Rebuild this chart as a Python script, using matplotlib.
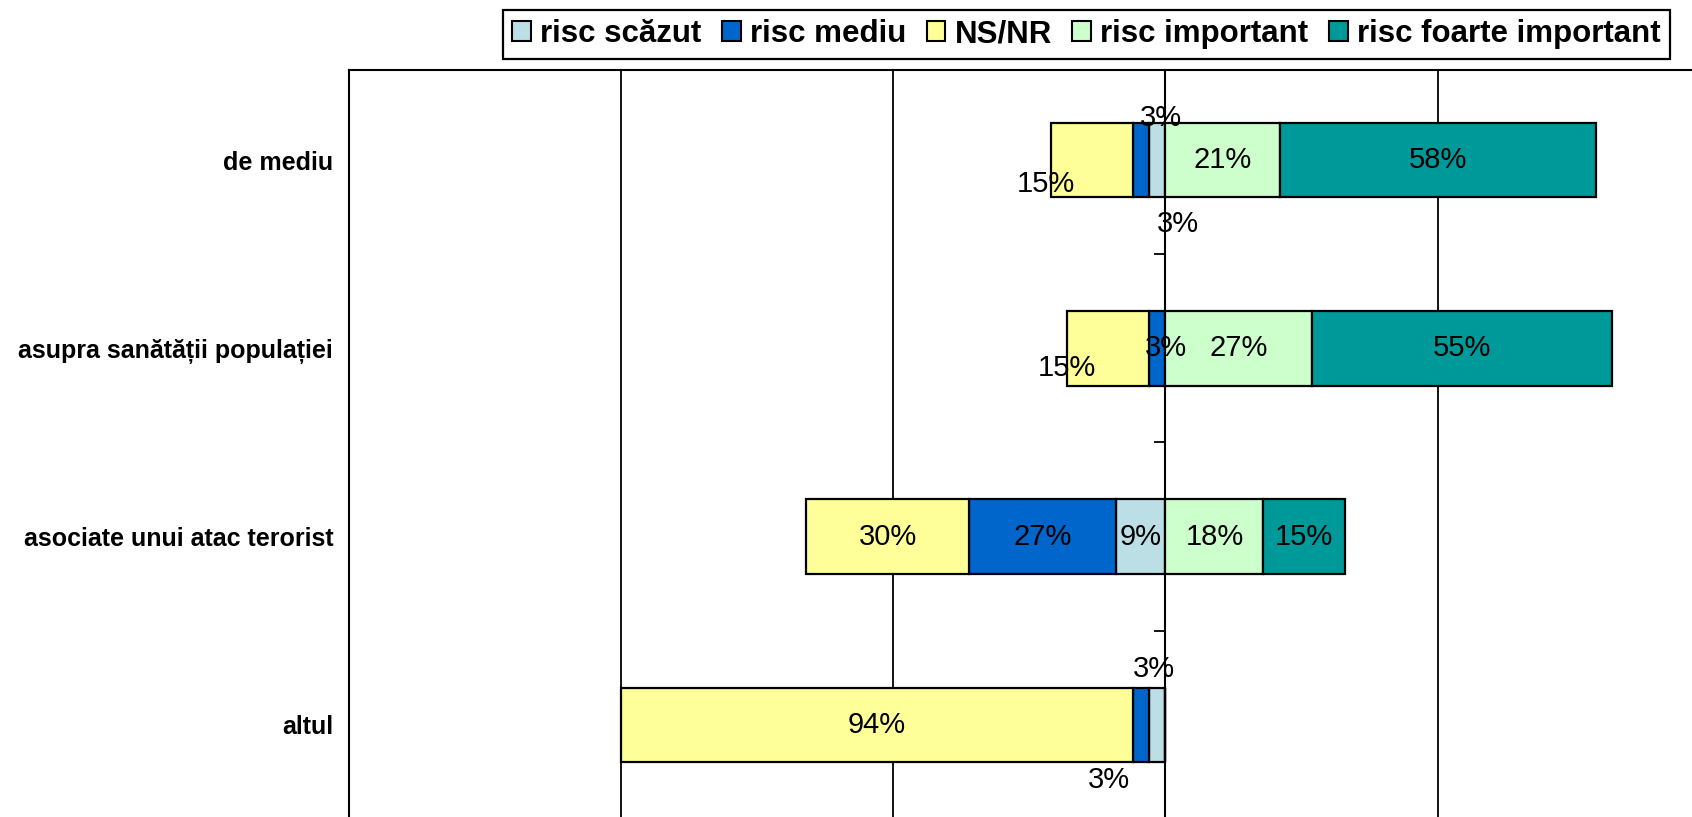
import numpy as np
import matplotlib.pyplot as plt
from matplotlib.patches import Patch

plt.rcParams['font.family'] = ['Liberation Sans', 'DejaVu Sans']

# data (percent)
categories = ['de mediu', 'asupra sanătății populației', 'asociate unui atac terorist', 'altul']
scazut = [3, 0, 9, 3]
mediu = [3, 3, 27, 3]
nsnr = [15, 15, 30, 94]
important = [21, 27, 18, 0]
foarte = [58, 55, 15, 0]

series_names = ['risc scăzut', 'risc mediu', 'NS/NR', 'risc important', 'risc foarte important']
colors = ['#BBDFE5', '#0066CC', '#FFFF99', '#CCFFCC', '#009999']

# label offsets in points for the crowded small segments (category index, series index)
offsets = {(0, 2): (-33, -17), (0, 0): (3, 30), (0, 1): (27, -46),
           (1, 2): (-30, -14), (1, 1): (6, 0),
           (3, 0): (-2, 40), (3, 1): (-23, -40)}

fig = plt.figure(figsize=(16.92, 8.17), dpi=100)
ax = fig.add_axes([348.5 / 1692, 0, 1 - 348.5 / 1692, 1 - 70 / 817])

y = np.arange(len(categories))
s = np.array(scazut)
m = np.array(mediu)
n = np.array(nsnr)
im = np.array(important)
f = np.array(foarte)

lefts = [-s, -s - m, -s - m - n, np.zeros(len(y)), im]
widths = [s, m, n, im, f]

bh = 0.396
for k in range(5):
    ax.barh(y, widths[k], left=lefts[k], height=bh, color=colors[k],
            edgecolor='black', linewidth=1.6, zorder=3)
    for i in range(len(y)):
        w = widths[k][i]
        if w == 0:
            continue
        cx = lefts[k][i] + w / 2
        dx, dy = offsets.get((i, k), (0, 0))
        ax.annotate(f'{w}%', (cx, y[i]), xytext=(dx, dy), textcoords='offset points',
                    ha='center', va='center', fontsize=21, color='black', zorder=5)

ax.set_xlim(-150, 96.7)
ax.set_ylim(3.49, -0.479)
ax.set_xticks([-150, -100, -50, 0, 50])
ax.xaxis.grid(True, color='black', linewidth=1.3)
ax.set_axisbelow(True)
ax.tick_params(axis='x', length=0, labelbottom=False)
ax.set_yticks(y)
ax.set_yticklabels(categories, fontsize=18, fontweight='bold')
ax.tick_params(axis='y', length=0, pad=11)
for sp in ['right', 'bottom']:
    ax.spines[sp].set_visible(False)
for sp in ['left', 'top']:
    ax.spines[sp].set_linewidth(1.5)

# vertical axis at zero with ticks between categories
sec = ax.secondary_yaxis(0, transform=ax.transData)
sec.set_yticks([0.5, 1.5, 2.5])
sec.set_yticklabels([])
sec.tick_params(axis='y', direction='out', length=8, width=1.3, color='black')
sec.spines['left'].set_linewidth(1.5)

handles = [Patch(facecolor=c, edgecolor='black', linewidth=1.5) for c in colors]
leg = fig.legend(handles, series_names, loc='upper right', ncol=5,
                 bbox_to_anchor=(1670 / 1692, 1 - 10 / 817), borderaxespad=0,
                 prop={'weight': 'bold', 'size': 22.5}, handlelength=0.6, handleheight=0.6,
                 handletextpad=0.3, columnspacing=0.65, borderpad=0.3,
                 fancybox=False, framealpha=1, edgecolor='black')
leg.get_frame().set_linewidth(1.6)

fig.savefig('out.png', dpi=100)
